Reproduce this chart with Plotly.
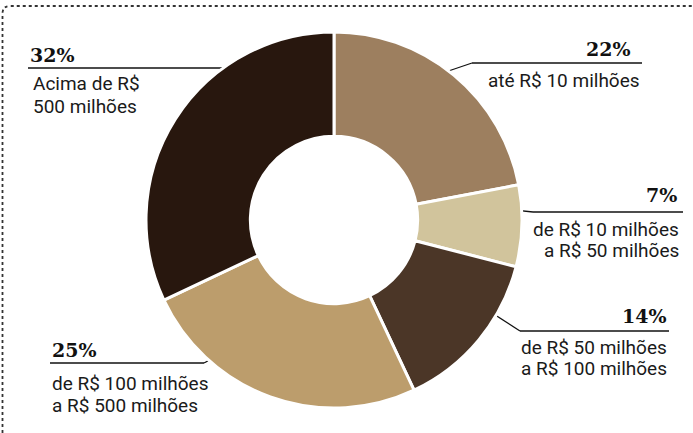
import plotly.graph_objects as go

# ---- data ----
categories = [
    "até R$ 10 milhões",
    "de R$ 10 milhões<br>a R$ 50 milhões",
    "de R$ 50 milhões<br>a R$ 100 milhões",
    "de R$ 100 milhões<br>a R$ 500 milhões",
    "Acima de R$<br>500 milhões",
]
shares = [22, 7, 14, 25, 32]
pct_labels = ["22%", "7%", "14%", "25%", "32%"]
colors = ["#9d7f5f", "#d1c49c", "#4b3627", "#bc9d6c", "#28170e"]

# ---- label layout (pixel coords on a 693x433 canvas) ----
# side, rule x0/x1/y, dot x/y, pct x / y-centre, text x, text line y-centres
layout_info = [
    dict(side="right", rx0=472, rx1=642, ry=63, dx=419, dy=81, px=633, py=48.5, tx=642, ty=[80]),
    dict(side="right", rx0=533, rx1=683, ry=212, dx=487, dy=207, px=679, py=195, tx=681, ty=[229, 250]),
    dict(side="right", rx0=520, rx1=669, ry=331, dx=475, dy=302, px=669, py=315.5, tx=669, ty=[347.5, 368]),
    dict(side="left", rx0=50, rx1=204, ry=363, dx=238, dy=345, px=50, py=349.5, tx=50, ty=[383, 405]),
    dict(side="left", rx0=28, rx1=222, ry=68, dx=245, dy=100, px=28, py=55, tx=31, ty=[83, 106.5]),
]

W, H = 693, 433
cx, cy, R = 334, 220, 188

fig = go.Figure()

fig.add_trace(go.Pie(
    values=shares,
    labels=categories,
    sort=False,
    direction="clockwise",
    rotation=0,
    hole=0.445,
    marker=dict(colors=colors, line=dict(color="white", width=3)),
    textinfo="none",
    hoverinfo="skip",
    showlegend=False,
    domain=dict(x=[(cx - R) / W, (cx + R) / W], y=[(H - cy - R) / H, (H - cy + R) / H]),
))

annotations = []
for i, L in enumerate(layout_info):
    elbow_x = L["rx0"] if L["side"] == "right" else L["rx1"]
    fig.add_trace(go.Scatter(
        x=[L["rx0"], L["rx1"], None, elbow_x, L["dx"]],
        y=[L["ry"], L["ry"], None, L["ry"], L["dy"]],
        mode="lines", line=dict(color="#111111", width=1.3),
        hoverinfo="skip", showlegend=False,
    ))
    fig.add_trace(go.Scatter(
        x=[L["dx"]], y=[L["dy"]], mode="markers",
        marker=dict(color="#000000", size=6),
        hoverinfo="skip", showlegend=False,
    ))
    anchor = L["side"]
    annotations.append(dict(
        x=L["px"], y=L["py"], xref="x", yref="y", text="<b>" + pct_labels[i] + "</b>",
        showarrow=False, xanchor=anchor, yanchor="middle",
        font=dict(family="DejaVu Serif", size=19, color="#111111"),
    ))
    for line_text, ly in zip(categories[i].split("<br>"), L["ty"]):
        annotations.append(dict(
            x=L["tx"], y=ly, xref="x", yref="y", text=line_text,
            showarrow=False, xanchor=anchor, yanchor="middle",
            font=dict(family="Roboto", size=19, color="#1a1a1a"),
        ))

# dotted frame (top and left edges, rounded corner)
fig.add_shape(
    type="path", xref="x", yref="y",
    path="M 2.5 433 L 2.5 14 Q 2.5 6 10 6 L 700 6",
    line=dict(color="#333333", width=1.8, dash="dot"),
)

fig.update_layout(
    width=W, height=H,
    margin=dict(l=0, r=0, t=0, b=0),
    paper_bgcolor="white", plot_bgcolor="rgba(0,0,0,0)",
    xaxis=dict(range=[0, W], visible=False, fixedrange=True),
    yaxis=dict(range=[H, 0], visible=False, fixedrange=True),
    annotations=annotations,
)

fig.write_html(
    "out.html",
    config={"displayModeBar": False},
    post_script="document.body.style.margin='0';document.body.style.overflow='hidden';",
)
